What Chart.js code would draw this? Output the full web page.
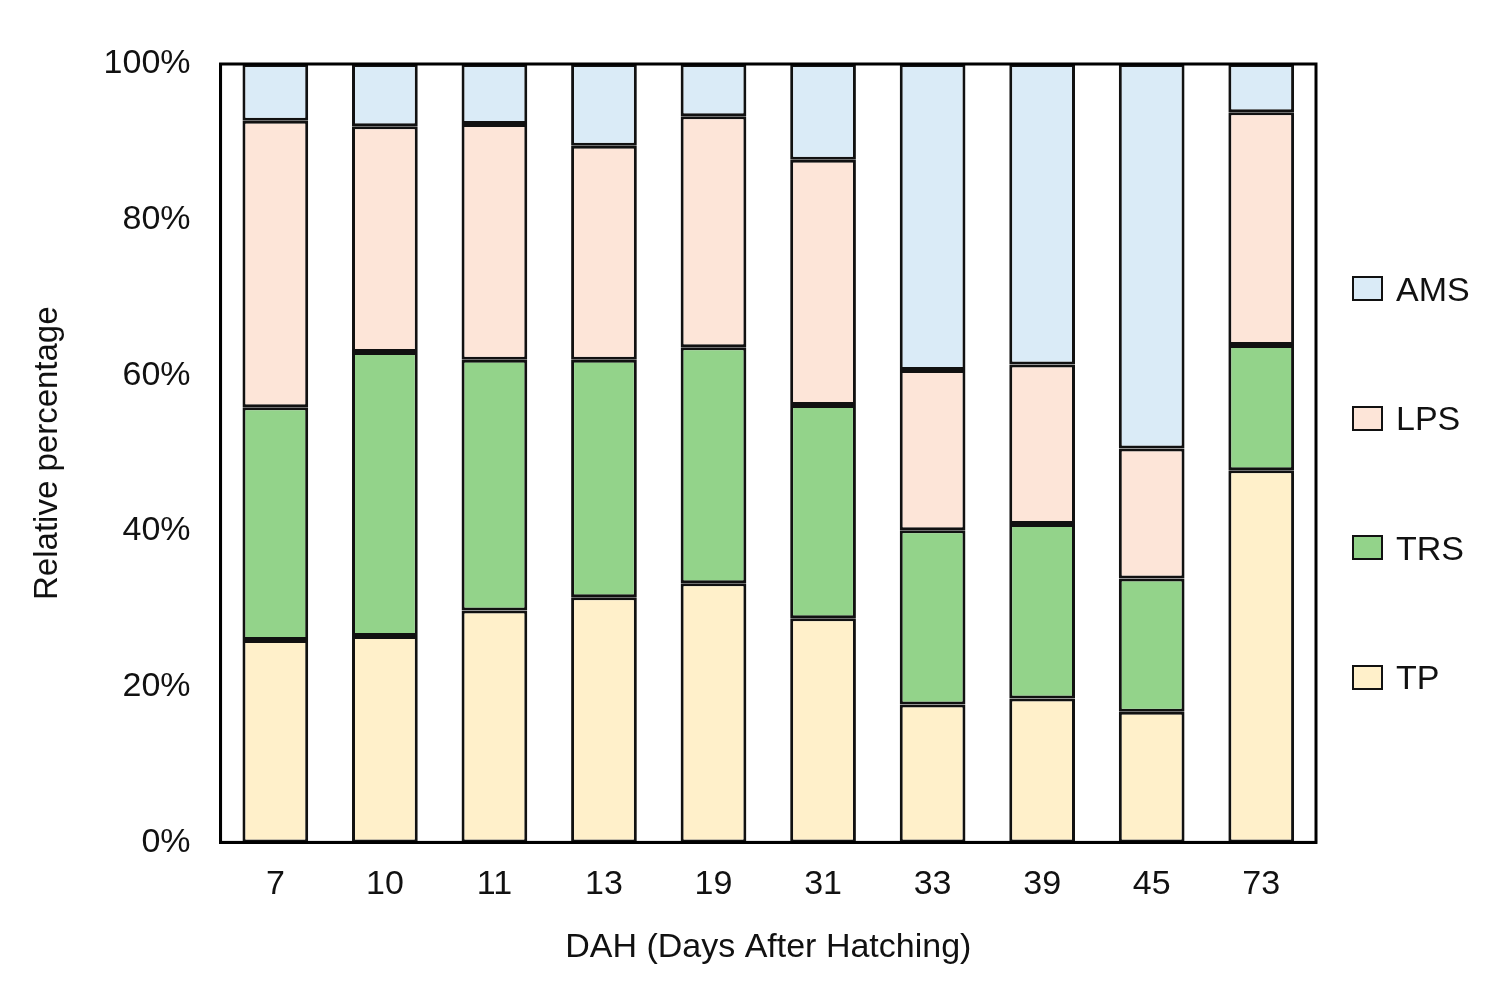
<!DOCTYPE html>
<html>
<head>
<meta charset="utf-8">
<script src="https://cdn.jsdelivr.net/npm/chart.js@4/dist/chart.umd.min.js"></script>
<style>
  html, body { margin: 0; padding: 0; background: #fff; }
  #wrap { position: relative; width: 1506px; height: 993px; }
  #legend { position: absolute; left: 1352px; top: 224px; font-family: 'Liberation Sans', Arial, sans-serif; font-size: 34px; color: #111; }
  #legend .item { display: flex; align-items: center; height: 129.5px; line-height: 1; }
  #legend .box { width: 27px; height: 21px; border: 2.5px solid #111; margin-right: 13px; }
</style>
</head>
<body>
<div id="wrap">
  <canvas id="chart"></canvas>
  <div id="legend"></div>
</div>
<script>
const days = ['7', '10', '11', '13', '19', '31', '33', '39', '45', '73'];
const tp  = [26.0, 26.5, 29.8, 31.5, 33.3, 28.8, 17.7, 18.5, 16.8, 47.8];
const trs = [29.9, 36.5, 32.2, 30.5, 30.3, 27.4, 22.4, 22.4, 17.1, 16.1];
const lps = [36.8, 29.0, 30.3, 27.5, 29.7, 31.5, 20.6, 20.5, 16.7, 29.9];
const ams = [7.3, 8.0, 7.7, 10.5, 6.7, 12.3, 39.3, 38.6, 49.4, 6.2];
const yTicks = [0, 20, 40, 60, 80, 100];

const font = "'Liberation Sans', Arial, sans-serif";

const frame = {
    id: 'frame',
    afterDatasetsDraw(chart) {
        const a = chart.chartArea;
        const c = chart.ctx;
        c.save();
        c.strokeStyle = '#000';
        c.lineWidth = 3;
        c.strokeRect(a.left, a.top, a.right - a.left, a.bottom - a.top);
        c.restore();
    }
};

function ds(label, data, color) {
    return {
        label: label,
        data: data,
        backgroundColor: color,
        borderColor: '#111',
        borderWidth: 3,
        borderSkipped: false,
        barPercentage: 0.6,
        categoryPercentage: 1.0
    };
}

const chart = new Chart(document.getElementById('chart'), {
    type: 'bar',
    data: {
        labels: days,
        datasets: [
            ds('TP', tp, '#FFF0CA'),
            ds('TRS', trs, '#93D38A'),
            ds('LPS', lps, '#FDE5D8'),
            ds('AMS', ams, '#DAEBF7')
        ]
    },
    options: {
        responsive: true,
        maintainAspectRatio: false,
        animation: false,
        layout: { padding: { top: 64, right: 190, bottom: 25, left: 28 } },
        plugins: {
            tooltip: { enabled: false },
            legend: { display: false }
        },
        scales: {
            x: {
                stacked: true,
                grid: { display: false, drawTicks: false },
                border: { display: true, color: '#000', width: 3 },
                ticks: { font: { family: font, size: 34 }, color: '#111', padding: 22 },
                title: {
                    display: true,
                    text: 'DAH (Days After Hatching)',
                    font: { family: font, size: 34 },
                    color: '#111',
                    padding: { top: 0, bottom: 0 }
                }
            },
            y: {
                stacked: true,
                min: 0,
                max: 100,
                afterBuildTicks: axis => { axis.ticks = yTicks.map(v => ({ value: v })); },
                grid: { display: false, drawTicks: false },
                border: { display: true, color: '#000', width: 3 },
                ticks: {
                    font: { family: font, size: 34 },
                    color: '#111',
                    padding: 30,
                    callback: v => v + '%'
                },
                title: {
                    display: true,
                    text: 'Relative percentage',
                    font: { family: font, size: 33 },
                    color: '#111',
                    padding: { top: 0, bottom: 6 }
                }
            }
        }
    },
    plugins: [frame]
});

// legend, top item first (AMS), like the stack order
const legend = document.getElementById('legend');
chart.data.datasets.slice().reverse().forEach(d => {
    const item = document.createElement('div');
    item.className = 'item';
    item.innerHTML = `<span class="box" style="background:${d.backgroundColor}"></span><span>${d.label}</span>`;
    legend.appendChild(item);
});
</script>
</body>
</html>
